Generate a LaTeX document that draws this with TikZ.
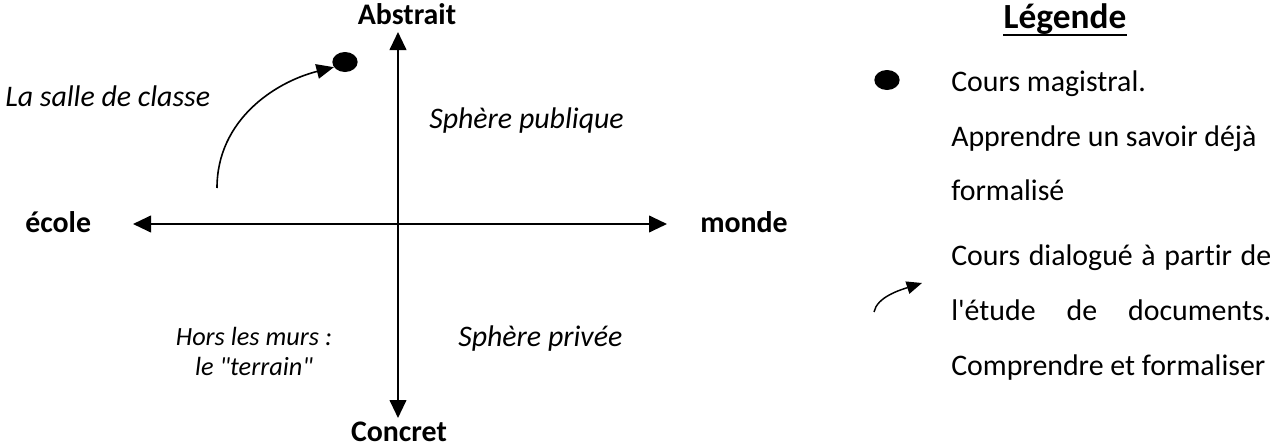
\documentclass[tikz,border=0pt]{standalone}
\usepackage{fontspec}
\setmainfont{Carlito}[Ligatures={TeXOff,NoCommon}]
\usetikzlibrary{arrows.meta,shapes.geometric}
\begin{document}
\begin{tikzpicture}[x=0.75pt,y=-0.75pt,
  axis/.style={line width=1.5pt,{Triangle[length=13.5pt,width=12.5pt]}-{Triangle[length=13.5pt,width=12.5pt]}},
  carrow/.style={line width=1.2pt,-{Triangle[length=13pt,width=11pt]}},
  larrow/.style={line width=1.1pt,-{Triangle[length=11.5pt,width=9.5pt]}},
  txt/.style={inner sep=0pt,font=\fontsize{22.4}{27}\selectfont},
  bold/.style={txt,font=\fontsize{22.4}{27}\selectfont\bfseries},
  bigbold/.style={txt,font=\fontsize{26.5}{31}\selectfont\bfseries},
  ital/.style={txt,font=\fontsize{22.4}{27}\selectfont\itshape},
  smallital/.style={txt,font=\fontsize{19.7}{24}\selectfont\itshape},
  dot/.style={ellipse,fill=black,inner sep=0pt,minimum width=19pt,minimum height=15pt}
]
\useasboundingbox (0,0) rectangle (1272,446);
% axes
\coordinate (top) at (398,32);
\coordinate (bot) at (398,418);
\coordinate (lft) at (133,224);
\coordinate (rgt) at (667,224);
\draw[axis] (bot) -- (top);
\draw[axis] (lft) -- (rgt);
% axis labels
\node[bold,anchor=base] (abs) at (407,25) {Abstrait};
\node[bold,anchor=base] (con) at (399,441) {Concret};
\node[bold,anchor=base west] (eco) at (25,232) {école};
\node[bold,anchor=base west] (mon) at (700,232) {monde};
% quadrant labels
\node[ital,anchor=base west] (salle) at (5,106) {La salle de classe};
\node[ital,anchor=base west] (pub) at (429,128) {Sphère publique};
\node[ital,anchor=base west] (priv) at (458,346) {Sphère privée};
\node[smallital,anchor=base] (hors1) at (254,345) {Hors les murs :};
\node[smallital,anchor=base] (hors2) at (254,375) {le "terrain"};
% dot and curved arrow
\node[dot] (d1) at (345,62) {};
\coordinate (cs) at (217,188);
\draw[carrow] (cs) .. controls (217,120) and (275,82) .. (d1.205);
% legend
\node[bigbold,anchor=base] (leg) at (1065,28) {Légende};
\draw[line width=1.3pt] ([yshift=-5pt]leg.base west) -- ([yshift=-5pt]leg.base east);
\node[dot] (d2) at (887,80) {};
\node[txt,anchor=base west] (l1) at (951,91) {Cours magistral.};
\node[txt,anchor=base west] (l2) at (951,146) {Apprendre un savoir déjà};
\node[txt,anchor=base west] (l3) at (951,200) {formalisé};
\node[txt,anchor=base west] (l4) at (951,265) {\hbox to 240pt{Cours\hfill dialogué\hfill à\hfill partir\hfill de}};
\node[txt,anchor=base west] (l5) at (951,320) {\hbox to 240pt{l'étude\hfill de\hfill documents.}};
\node[txt,anchor=base west] (l6) at (951,375) {Comprendre et formaliser};
\coordinate (la0) at (874,312);
\coordinate (la1) at (922,283);
\draw[larrow] (la0) .. controls (877,297) and (900,290) .. (la1);
\end{tikzpicture}
\end{document}
